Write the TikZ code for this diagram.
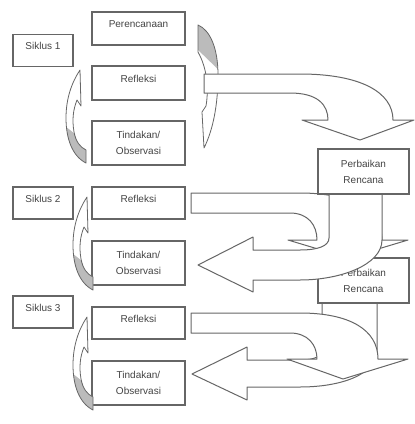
\documentclass[tikz,border=0pt]{standalone}
\usepackage{fontspec}
\setmainfont{Liberation Sans}
\definecolor{linec}{HTML}{666666}
\definecolor{textc}{HTML}{444444}
\definecolor{shadec}{HTML}{BBBBBB}
\newcommand{\curlshape}{(0,0) -- (1,36) -- (-3,30) .. controls (-7,40) and (-8,50) .. (-6,62) .. controls (-4,72) and (0,77) .. (6,80) -- (6,93) .. controls (-8,86) and (-14,68) .. (-14,48) .. controls (-14,28) and (-8,12) .. (0,0) -- cycle}
\newcommand{\rcurlshape}{(198,25) .. controls (210,30) and (218,48) .. (218,75) .. controls (218,105) and (213,130) .. (204,148) -- (202,112) -- (206,106) .. controls (209,88) and (207,68) .. (198,52) -- cycle}
\tikzset{
  curl/.pic={
    \fill[white] \curlshape;
    \begin{scope}
      \clip \curlshape;
      \fill[shadec] (-20,52) -- (10,76) -- (10,100) -- (-20,100) -- cycle;
    \end{scope}
    \draw[linec, line width=.8pt, line join=round] \curlshape;
  }
}
\begin{document}
\begin{tikzpicture}[x=1pt,y=-1pt,
  box/.style={draw=linec, line width=1.1pt, fill=white, inner sep=0pt, align=center, text=textc, font=\fontsize{10}{16}\selectfont},
  onel/.style={text height=7pt, text depth=9pt},
  lbox/.style={box, minimum width=93pt},
  sbox/.style={box, onel, minimum width=60pt, minimum height=32pt},
  pbox/.style={box, minimum width=91pt, minimum height=45pt},
  bigarr/.style={draw=linec, line width=1pt, fill=white, line join=round}]
\useasboundingbox[fill=white] (0,0) rectangle (415,424);

% left labels
\node[sbox] (s1) at (43,50.5) {Siklus 1};
\node[sbox] (s2) at (43,203) {Siklus 2};
\node[sbox] (s3) at (43,312) {Siklus 3};

% left column boxes
\node[lbox, onel, minimum height=33pt] (pr) at (138.5,28.5) {Perencanaan};
\node[lbox, onel, minimum height=34pt] (r1) at (138.5,83) {Refleksi};
\node[lbox, minimum height=44pt] (t1) at (138.5,143) {Tindakan/\\Observasi};
\node[lbox, onel, minimum height=32pt] (r2) at (138.5,203) {Refleksi};
\node[lbox, minimum height=44pt] (t2) at (138.5,263) {Tindakan/\\Observasi};
\node[lbox, onel, minimum height=32pt] (r3) at (138.5,323) {Refleksi};
\node[lbox, minimum height=44pt] (t3) at (138.5,383) {Tindakan/\\Observasi};

% small curved arrows on the left
\pic at (80,70) {curl};
\begin{scope}[shift={(87,197)}, yscale=.935]
  \pic {curl};
\end{scope}
\begin{scope}[shift={(87,317)}, yscale=.8]
  \pic {curl};
\end{scope}

% right curved arrow of cycle 1
\fill[white] \rcurlshape;
\begin{scope}
  \clip \rcurlshape;
  \fill[shadec] (190,15) -- (225,15) -- (225,76) -- (196,48) -- cycle;
\end{scope}
\draw[linec, line width=.8pt, line join=round] \rcurlshape;

% cycle 3 arrows
\draw[bigarr] (322,303) -- (322,350) .. controls (322,356) and (315,360) .. (300,360) -- (247,360) -- (247,347) -- (192,374) -- (247,400) -- (247,387) -- (300,387) .. controls (340,387) and (377,375) .. (377,350) -- (377,303) -- cycle;
\draw[bigarr] (191,313) -- (300,313) .. controls (350,313) and (378,330) .. (378,359) -- (408,359) -- (343,379) -- (287,359) -- (317,359) .. controls (317,345) and (308,333) .. (290,333) -- (191,333) -- cycle;

\node[pbox] (pb2) at (363.5,280.5) {Perbaikan\\Rencana};

% cycle 2 arrows
\draw[bigarr] (191,193) -- (300,193) .. controls (350,193) and (382,210) .. (382,240) -- (408,240) -- (348,258) -- (288,240) -- (317,240) .. controls (317,225) and (308,213) .. (290,213) -- (191,213) -- cycle;
\draw[bigarr] (329,194) -- (329,238) .. controls (329,246) and (318,250) .. (300,250) -- (253,250) -- (253,237) -- (198,265) -- (253,292) -- (253,280) -- (300,280) .. controls (340,280) and (382,265) .. (382,240) -- (382,194) -- cycle;

\node[pbox] (pb1) at (363.5,171.5) {Perbaikan\\Rencana};

% cycle 1 arrow
\draw[bigarr] (204,74) -- (300,74) .. controls (360,74) and (393,92) .. (393,120) -- (414,120) -- (360,140) -- (302,120) -- (328,120) .. controls (328,105) and (318,93) .. (290,93) -- (204,93) -- cycle;
\end{tikzpicture}
\end{document}
